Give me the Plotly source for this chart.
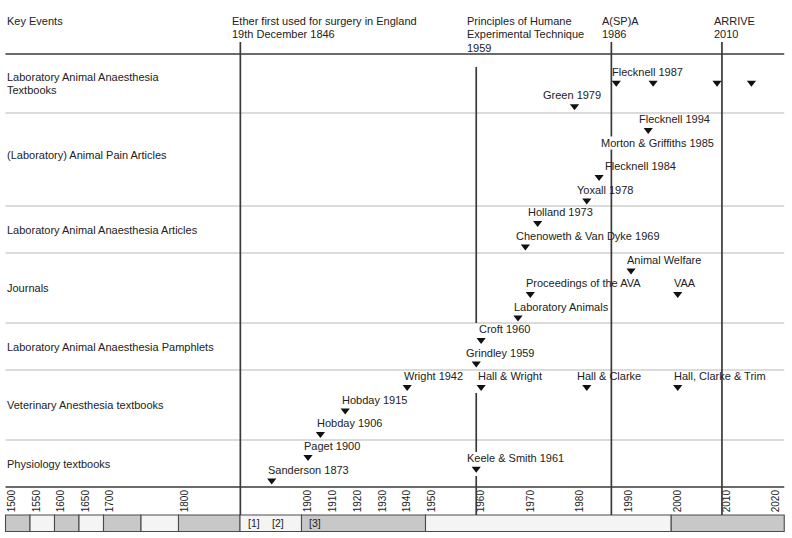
import plotly.graph_objects as go

# ---------------- data ----------------
ROW_NAMES = [
    "Laboratory Animal Anaesthesia<br>Textbooks",
    "(Laboratory) Animal Pain Articles",
    "Laboratory Animal Anaesthesia Articles",
    "Journals",
    "Laboratory Animal Anaesthesia Pamphlets",
    "Veterinary Anesthesia textbooks",
    "Physiology textbooks",
]

KEY_EVENT_TEXT = [
    "Ether first used for surgery in England<br>19th December 1846",
    "Principles of Humane<br>Experimental Technique<br>1959",
    "A(SP)A<br>1986",
    "ARRIVE<br>2010",
]
KEY_EVENT_YEARS = [1845, 1959, 1986.5, 2009]

EVENT_LABELS = [
    "Flecknell 1987", "", "", "", "Green 1979",
    "Flecknell 1994", "Morton & Griffiths 1985", "Flecknell 1984", "Yoxall 1978",
    "Holland 1973", "Chenoweth & Van Dyke 1969",
    "Animal Welfare", "Proceedings of the AVA", "VAA", "Laboratory Animals",
    "Croft 1960", "Grindley 1959",
    "Wright 1942", "Hall & Wright", "Hall & Clarke", "Hall, Clarke & Trim",
    "Hobday 1915", "Hobday 1906",
    "Paget 1900", "Sanderson 1873", "Keele & Smith 1961",
]
EVENT_YEARS = [
    1987.5, 1995, 2008, 2015, 1979,
    1994, 1985, 1984, 1981.5,
    1971.5, 1969,
    1990.5, 1970, 2000, 1967.5,
    1960, 1959,
    1940, 1960, 1981.5, 2000,
    1915, 1905,
    1900, 1870.5, 1959,
]
EVENT_ROWS = [
    0, 0, 0, 0, 0,
    1, 1, 1, 1,
    2, 2,
    3, 3, 3, 3,
    4, 4,
    5, 5, 5, 5, 5, 5,
    6, 6, 6,
]
EVENT_HAS_MARKER = [
    True, True, True, True, True,
    True, False, True, True,
    True, True,
    True, True, True, True,
    True, True,
    True, True, True, True, True, True,
    True, True, True,
]

TICK_YEARS = [1500, 1550, 1600, 1650, 1700, 1800, 1900, 1910, 1920, 1930,
              1940, 1950, 1960, 1970, 1980, 1990, 2000, 2010, 2020]
ERA_EDGES = [1500, 1550, 1600, 1650, 1700, 1750, 1800, 1850, 1900, 1950, 2000, 2023]
ERA_NOTES = ["[1]", "[2]", "[3]"]
ERA_NOTE_YEARS = [1856, 1876, 1903]

# ---------------- scale (piecewise linear, compressed past) ----------------
SCALE_YEARS = [1500, 1700, 1800, 1900, 1950, 2020]
SCALE_U = [12, 110, 185, 308, 432, 776]


def xpos(year):
    ys, us = SCALE_YEARS, SCALE_U
    if year <= ys[0]:
        i = 0
    elif year >= ys[-1]:
        i = len(ys) - 2
    else:
        i = max(k for k in range(len(ys) - 1) if ys[k] <= year)
    return us[i] + (year - ys[i]) * (us[i + 1] - us[i]) / (ys[i + 1] - ys[i])


# ---------------- layout / style ----------------
W, H = 792, 538
FONT = "Arial, 'Liberation Sans', sans-serif"
TXT = "#222222"
DARK = "#3a3a3a"
LINE_H = 13.7
ROW_EDGES = [54, 113, 206, 253, 323, 370, 440, 487]
ROW_LABEL_DY = [0, -4.5, 0, 0, 0, 0, 0]
BAND_SHIFT = -6.5
BAND_Y = (515, 531.5)
LANE_GAP = 23.5
FIRST_LANE = [28.7, 17, 17, 17.5, 17, 17, 17]
EVENT_LANES = [
    0, 0, 0, 0, 1,
    0, 1, 2, 3,
    0, 1,
    0, 1, 1, 2,
    0, 1,
    0, 0, 0, 0, 1, 2,
    0, 1, 0.5,
]
LABEL_DX = [
    -5, 0, 0, 0, -32.3,
    -10.6, -3.6, 5.3, -10.7,
    -11, -10.7,
    -5, -5, -4.3, -4.7,
    -3, -11,
    -4.4, -4.4, -10.7, -4.3, -4.3, -4.7,
    -4.7, -4.4, -10.7,
]
KEY_LINE_SEGMENTS = [
    [(42, 515)],
    [(67, 323), (393, 452), (476, 515)],
    [(42, 515)],
    [(42, 515)],
]
KEY_TEXT_DX = [-9, -10, -10.7, -9]
HEADER_FIRST_Y = 20.7

x_left = xpos(ERA_EDGES[0]) + BAND_SHIFT
x_right = xpos(ERA_EDGES[-1]) + BAND_SHIFT

shapes = []
annotations = []


def add_lines(text, x, y_first, dx=0, bg=None):
    """Place a multi-line text with fixed line spacing, left-aligned."""
    for k, line in enumerate(text.split("<br>")):
        annotations.append(dict(x=x, y=y_first + k * LINE_H, xref="x", yref="y", text=line,
                                showarrow=False, xanchor="left", yanchor="middle", xshift=dx,
                                align="left", bgcolor=bg, borderpad=0,
                                font=dict(size=11, color=TXT, family=FONT)))


# header separator and bottom axis line
for yv in (ROW_EDGES[0], ROW_EDGES[-1]):
    shapes.append(dict(type="line", xref="x", yref="y", x0=x_left, x1=x_right,
                       y0=yv, y1=yv, line=dict(color=DARK, width=1.5)))
# row separators
for yv in ROW_EDGES[1:-1]:
    shapes.append(dict(type="line", xref="x", yref="y", x0=x_left, x1=x_right,
                       y0=yv, y1=yv, line=dict(color="#cfcfcf", width=1.3)))

# era band
for i in range(len(ERA_EDGES) - 1):
    shapes.append(dict(type="rect", xref="x", yref="y",
                       x0=xpos(ERA_EDGES[i]) + BAND_SHIFT,
                       x1=xpos(ERA_EDGES[i + 1]) + BAND_SHIFT,
                       y0=BAND_Y[0], y1=BAND_Y[1],
                       fillcolor="#c8c8c8" if i % 2 == 0 else "#f4f4f4",
                       line=dict(color="#4a4a4a", width=1.1), layer="below"))
for note, yr in zip(ERA_NOTES, ERA_NOTE_YEARS):
    annotations.append(dict(x=xpos(yr), y=(BAND_Y[0] + BAND_Y[1]) / 2, xref="x", yref="y",
                            text=note, showarrow=False, xanchor="center", yanchor="middle",
                            font=dict(size=10.5, color=TXT, family=FONT)))

# key event vertical lines and header texts
for yr, segs, txt, dx in zip(KEY_EVENT_YEARS, KEY_LINE_SEGMENTS, KEY_EVENT_TEXT, KEY_TEXT_DX):
    xv = xpos(yr)
    for y0, y1 in segs:
        shapes.append(dict(type="line", xref="x", yref="y", x0=xv, x1=xv, y0=y0, y1=y1,
                           line=dict(color=DARK, width=1.7)))
    add_lines(txt, xv, HEADER_FIRST_Y, dx)

add_lines("Key Events", x_left, HEADER_FIRST_Y)

# row labels
for i, name in enumerate(ROW_NAMES):
    n = len(name.split("<br>"))
    ymid = (ROW_EDGES[i] + ROW_EDGES[i + 1]) / 2 + ROW_LABEL_DY[i]
    add_lines(name, x_left, ymid - (n - 1) * LINE_H / 2)

# events
mx, my = [], []
for lab, yr, row, lane, dx, has in zip(EVENT_LABELS, EVENT_YEARS, EVENT_ROWS, EVENT_LANES,
                                       LABEL_DX, EVENT_HAS_MARKER):
    yv = ROW_EDGES[row] + FIRST_LANE[row] + lane * LANE_GAP
    xv = xpos(yr)
    if has:
        mx.append(xv)
        my.append(yv)
    if lab:
        add_lines(lab, xv, yv - 11, dx, bg=None if has else "white")

fig = go.Figure()
fig.add_trace(go.Scatter(x=mx, y=my, mode="markers", hoverinfo="skip",
                         marker=dict(symbol="triangle-down", size=8, color="#111111",
                                     line=dict(width=0))))

fig.update_layout(
    width=W, height=H,
    margin=dict(l=0, r=0, t=0, b=0),
    paper_bgcolor="white", plot_bgcolor="white",
    showlegend=False,
    shapes=shapes, annotations=annotations,
    xaxis=dict(range=[0, W], showgrid=False, zeroline=False, showline=False,
               tickvals=[xpos(t) for t in TICK_YEARS], ticktext=[str(t) for t in TICK_YEARS],
               tickangle=-90, ticks="", tickfont=dict(size=10, color=TXT, family=FONT),
               anchor="free", position=(H - ROW_EDGES[-1]) / H, fixedrange=True),
    yaxis=dict(range=[H, 0], visible=False, fixedrange=True),
)

fig.write_html("out.html", config={"displayModeBar": False},
               post_script="document.body.style.margin='0';")
